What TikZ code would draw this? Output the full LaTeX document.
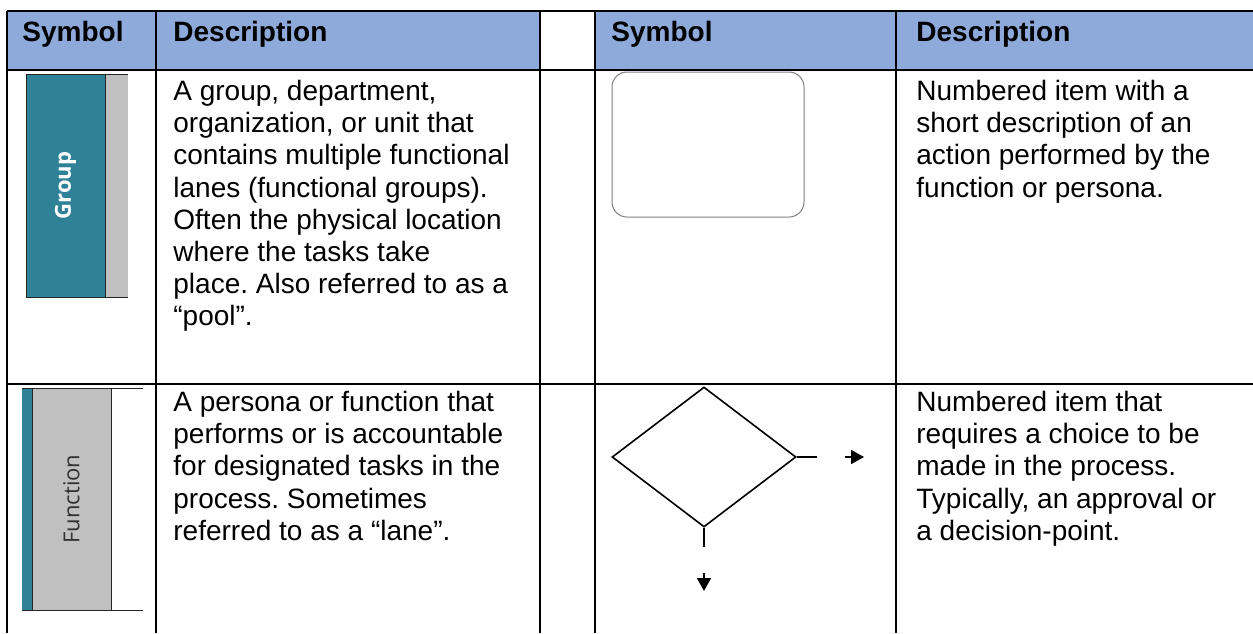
\documentclass[tikz,border=0pt]{standalone}
\usepackage{fontspec}
\setmainfont{Liberation Sans}
\newfontfamily\lanefont{Open Sans}
\usetikzlibrary{shapes.geometric,arrows.meta}
\definecolor{hdrblue}{HTML}{8EAADB}
\definecolor{laneteal}{HTML}{2E8196}
\definecolor{lanegray}{HTML}{C0C0C0}
\definecolor{boxgray}{HTML}{7F7F7F}
\definecolor{fntgray}{HTML}{303030}
\newcommand\tstrut{\rule{0pt}{11pt}}
\frenchspacing
\begin{document}
\begin{tikzpicture}[x=0.5pt,y=-0.5pt,
  gridline/.style={line width=1pt,black},
  hdrtext/.style={anchor=base west,inner sep=0pt,font=\fontsize{14}{16.1}\selectfont\bfseries},
  desc/.style={anchor=north west,inner sep=0pt,align=left,font=\fontsize{14}{16.1}\selectfont},
  laneline/.style={line width=0.5pt,black!85},
  lanelabel/.style={inner sep=0pt,rotate=90,font=\lanefont\fontsize{11}{13}\selectfont},
  actbox/.style={draw=boxgray,line width=0.5pt,rounded corners=7.5pt,minimum width=96pt,minimum height=72.5pt,inner sep=0pt},
  decbox/.style={draw=black,line width=0.8pt,diamond,minimum width=92pt,minimum height=70pt,inner sep=0pt},
  stub/.style={line width=0.8pt,black},
  tinyarrow/.style={line width=0.8pt,black,-{Triangle[length=6.5pt,width=7pt]}}
]
\useasboundingbox (0,0) rectangle (1253,633);
% header background
\fill[hdrblue] (7,11) rectangle (540,70);
\fill[hdrblue] (595,11) rectangle (1253,70);
% grid
\draw[gridline] (7,11) -- (1253,11);
\draw[gridline] (7,70) -- (1253,70);
\draw[gridline] (7,384) -- (1253,384);
\foreach \xx in {7,156,540,595,896} \draw[gridline] (\xx,11) -- (\xx,633);
% header texts
\node[hdrtext] (h1) at (22,41) {Symbol};
\node[hdrtext] (h2) at (173,41) {Description};
\node[hdrtext] (h3) at (611,41) {Symbol};
\node[hdrtext] (h4) at (916,41) {Description};
% group symbol
\fill[lanegray] (105,74) rectangle (128,297);
\draw[laneline,fill=laneteal] (26,74) rectangle (105,297);
\draw[laneline] (105,74) -- (128,74);
\draw[laneline] (105,297) -- (128,297);
\node[lanelabel,text=white,font=\lanefont\bfseries\fontsize{11}{13}\selectfont] (grp) at (65.5,185.5) {Group};
% function symbol
\fill[laneteal] (22,388) rectangle (32,610);
\fill[lanegray] (32,388) rectangle (111,610);
\draw[laneline] (32,388) -- (32,610);
\draw[laneline] (111,388) -- (111,610);
\draw[laneline] (22,388) -- (143,388);
\draw[laneline] (22,610) -- (143,610);
\node[lanelabel,text=fntgray] (fun) at (71.5,499) {Function};
% descriptions
\node[desc] (d1) at (173,78) {\tstrut A group, department,\\organization, or unit that\\contains multiple functional\\lanes (functional groups).\\Often the physical location\\where the tasks take\\place. Also referred to as a\\“pool”.};
\node[desc] (d2) at (916,78) {\tstrut Numbered item with a\\short description of an\\action performed by the\\function or persona.};
\node[desc] (d3) at (173,389) {\tstrut A persona or function that\\performs or is accountable\\for designated tasks in the\\process. Sometimes\\referred to as a “lane”.};
\node[desc] (d4) at (916,389) {\tstrut Numbered item that\\requires a choice to be\\made in the process.\\Typically, an approval or\\a decision-point.};
% action box
\node[actbox] (act) at (708,144.5) {};
% decision diamond
\node[decbox] (dec) at (704,457) {};
\coordinate (rs) at (817,457);
\coordinate (ra0) at (845,457);
\coordinate (ra1) at (864,457);
\coordinate (bs) at (704,547);
\coordinate (ba0) at (704,573);
\coordinate (ba1) at (704,591);
\draw[stub] (dec.east) -- (rs);
\draw[stub] (dec.south) -- (bs);
\draw[tinyarrow] (ra0) -- (ra1);
\draw[tinyarrow] (ba0) -- (ba1);
\end{tikzpicture}
\end{document}
